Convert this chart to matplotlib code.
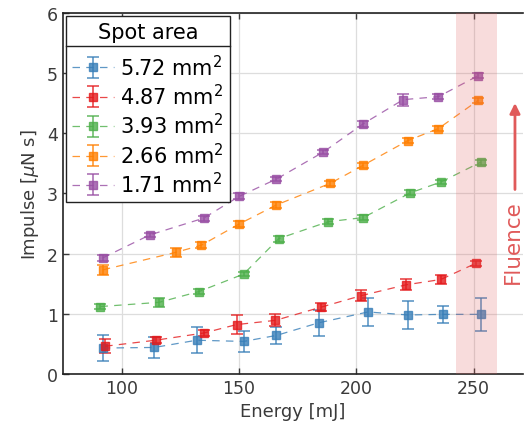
import matplotlib
matplotlib.use("Agg")
import matplotlib.pyplot as plt
from matplotlib.lines import Line2D

labels = ["5.72 mm$^2$", "4.87 mm$^2$", "3.93 mm$^2$", "2.66 mm$^2$", "1.71 mm$^2$"]
colors = ["#377eb8", "#e41a1c", "#4daf4a", "#ff7f00", "#984ea3"]

x_572 = [92, 114, 132, 152, 166, 184, 205, 222, 237, 253]
y_572 = [0.43, 0.44, 0.56, 0.54, 0.64, 0.85, 1.03, 0.98, 0.99, 0.99]
e_572 = [0.21, 0.17, 0.22, 0.17, 0.14, 0.22, 0.24, 0.23, 0.14, 0.28]

x_487 = [93, 114.5, 135, 149, 165.5, 185, 202, 221, 236, 251]
y_487 = [0.46, 0.56, 0.68, 0.82, 0.89, 1.11, 1.30, 1.48, 1.57, 1.84]
e_487 = [0.12, 0.05, 0.05, 0.16, 0.10, 0.07, 0.09, 0.09, 0.08, 0.04]

x_393 = [91, 116, 133, 152, 167, 188, 203, 223, 236, 253]
y_393 = [1.12, 1.19, 1.37, 1.66, 2.25, 2.53, 2.60, 3.01, 3.19, 3.52]
e_393 = [0.04, 0.07, 0.04, 0.04, 0.05, 0.04, 0.04, 0.04, 0.04, 0.04]

x_266 = [92, 123, 134, 150, 166, 189, 203, 222, 235, 252]
y_266 = [1.73, 2.02, 2.14, 2.49, 2.81, 3.17, 3.47, 3.88, 4.08, 4.55]
e_266 = [0.08, 0.07, 0.05, 0.05, 0.05, 0.04, 0.04, 0.04, 0.04, 0.04]

x_171 = [92, 112, 135, 150, 166, 186, 203, 220, 235, 252]
y_171 = [1.93, 2.31, 2.59, 2.95, 3.24, 3.69, 4.16, 4.56, 4.61, 4.96]
e_171 = [0.05, 0.04, 0.04, 0.05, 0.04, 0.04, 0.05, 0.10, 0.04, 0.04]

series = [(x_572, y_572, e_572), (x_487, y_487, e_487), (x_393, y_393, e_393),
          (x_266, y_266, e_266), (x_171, y_171, e_171)]

text_col = "#3a3a3a"
plt.rcParams['font.family'] = ['DejaVu Sans']
fig = plt.figure(figsize=(5.24, 4.39), dpi=100)
ax = fig.add_axes([0.120, 0.146, 0.878, 0.822])

for (xs, ys, es), c, lab in zip(series, colors, labels):
    ax.errorbar(xs, ys, yerr=es, color=c, marker='s', markersize=6, linestyle=(0, (6, 5)),
                linewidth=0.9, capsize=4, elinewidth=1.2, capthick=1.2, alpha=0.8,
                label=lab, zorder=3)

ax.axvspan(242.3, 260, color="#e06060", alpha=0.22, lw=0, zorder=4)

ax.set_xlim(75, 271)
ax.set_ylim(0, 6)
ax.set_xticks([100, 150, 200, 250])
ax.set_yticks([0, 1, 2, 3, 4, 5, 6])
ax.grid(True, color="#dddddd", linewidth=0.9, zorder=0)
ax.set_axisbelow(True)
ax.tick_params(direction='in', top=True, right=False, labelsize=12.5, colors=text_col,
               length=4, width=1)
for s in ax.spines.values():
    s.set_color("#222222")
    s.set_linewidth(1.2)
ax.spines['right'].set_visible(False)
ax.set_xlabel("Energy [mJ]", fontsize=13, color=text_col)
ax.set_ylabel(r"Impulse [$\mu$N s]", fontsize=13, color=text_col)

ax.annotate("", xy=(267.6, 4.55), xytext=(267.6, 3.02), xycoords='data',
            arrowprops=dict(arrowstyle='-|>', color="#e05a5a", lw=2, mutation_scale=15),
            annotation_clip=False, zorder=5)
ax.text(266.6, 2.2, "Fluence", rotation=90, color="#e05a5a", fontsize=15.5,
        ha='center', va='center', clip_on=False, zorder=5)

leg = ax.legend(title="Spot area", loc='upper left', fontsize=15, title_fontsize=15,
                fancybox=False, framealpha=1, edgecolor="#222222",
                borderaxespad=0.15, handlelength=2.0, handletextpad=0.3,
                labelspacing=0.2, borderpad=0.3)
leg.get_frame().set_linewidth(1.0)
leg._legend_box.sep = 8

fig.canvas.draw()
bb = leg.get_window_extent()
tb = leg.get_title().get_window_extent()
ysep = tb.y0 - 4
inv = fig.transFigure.inverted()
(x0f, yf), (x1f, _) = inv.transform([(bb.x0, ysep), (bb.x1, ysep)])
fig.add_artist(Line2D([x0f, x1f], [yf, yf], color="#222222", lw=1.0, zorder=10))

fig.savefig("out.png", dpi=100)
